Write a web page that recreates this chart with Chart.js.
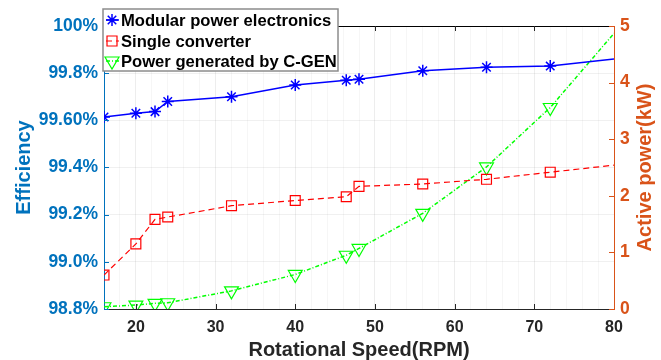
<!DOCTYPE html>
<html>
<head>
<meta charset="utf-8">
<script src="https://cdn.jsdelivr.net/npm/chart.js@4.4.1/dist/chart.umd.min.js"></script>
<style>
  html, body { margin: 0; padding: 0; background: #fff; }
  #wrap { width: 661px; height: 360px; position: relative; }
</style>
</head>
<body>
<div id="wrap"><canvas id="chart"></canvas></div>
<script>
// ===============================
// Données
// ===============================
const speeds = [16, 20, 22.4, 24, 32, 40, 46.4, 48, 56, 64, 72, 80];
const modularEff = [99.614, 99.63, 99.637, 99.68, 99.70, 99.75, 99.77, 99.774, 99.81, 99.825, 99.83, 99.86];
const singleEff = [98.944, 99.076, 99.18, 99.19, 99.238, 99.26, 99.276, 99.32, 99.33, 99.35, 99.38, 99.41];
const powerKW = [0.04, 0.07, 0.10, 0.11, 0.32, 0.61, 0.95, 1.07, 1.69, 2.51, 3.56, 4.87];

const xTicks = [20, 30, 40, 50, 60, 70, 80];
const effTicks = [98.8, 99.0, 99.2, 99.4, 99.6, 99.8, 100];
const effTickLabels = ["98.8%", "99.0%", "99.2%", "99.4%", "99.60%", "99.8%", "100%"];
const powerTicks = [0, 1, 2, 3, 4, 5];
const seriesNames = ["Modular power electronics", "Single converter", "Power generated by C-GEN"];

const FONT = '"Liberation Sans", Arial, sans-serif';
const BLUE_AX = "#0072BD";
const ORANGE_AX = "#D95319";
const DARK = "#262626";

const toPoints = (ys) => speeds.map((x, i) => ({ x: x, y: ys[i] }));
const hideLast = (r) => (c) => (c.raw && c.raw.x >= 80 ? 0 : r);

// ----------
// Décor : axes haut, graduations, légende, titre droit
// ----------
function drawMarker(ctx, kind, x, y) {
  ctx.beginPath();
  if (kind === "star") {
    const r = 6;
    ctx.moveTo(x - r, y); ctx.lineTo(x + r, y);
    ctx.moveTo(x, y - r); ctx.lineTo(x, y + r);
    const d = r * Math.SQRT1_2;
    ctx.moveTo(x - d, y - d); ctx.lineTo(x + d, y + d);
    ctx.moveTo(x - d, y + d); ctx.lineTo(x + d, y - d);
  } else if (kind === "rect") {
    ctx.rect(x - 5, y - 5, 10, 10);
  } else {
    ctx.moveTo(x - 7, y - 4);
    ctx.lineTo(x + 7, y - 4);
    ctx.lineTo(x, y + 8);
    ctx.closePath();
  }
  ctx.stroke();
}

const decor = {
  id: "decor",
  afterDraw(chart) {
    const { ctx, chartArea: a, scales } = chart;
    ctx.save();
    ctx.setLineDash([]);

    // axe du haut
    ctx.strokeStyle = "#000";
    ctx.lineWidth = 1;
    ctx.beginPath();
    ctx.moveTo(a.left, a.top + 0.5);
    ctx.lineTo(a.right, a.top + 0.5);
    ctx.stroke();

    // graduations x (bas + haut)
    ctx.strokeStyle = DARK;
    ctx.beginPath();
    xTicks.forEach((v) => {
      if (v >= 80) return;
      const px = Math.round(scales.x.getPixelForValue(v)) + 0.5;
      ctx.moveTo(px, a.bottom); ctx.lineTo(px, a.bottom - 5);
      ctx.moveTo(px, a.top); ctx.lineTo(px, a.top + 5);
    });
    ctx.stroke();

    // graduations gauche
    ctx.strokeStyle = BLUE_AX;
    ctx.beginPath();
    effTicks.forEach((v) => {
      const py = Math.round(scales.y.getPixelForValue(v)) + 0.5;
      ctx.moveTo(a.left, py); ctx.lineTo(a.left + 5, py);
    });
    ctx.stroke();

    // graduations droite
    ctx.strokeStyle = ORANGE_AX;
    ctx.beginPath();
    powerTicks.forEach((v) => {
      const py = Math.round(scales.y1.getPixelForValue(v)) + 0.5;
      ctx.moveTo(a.right, py); ctx.lineTo(a.right - 5, py);
    });
    ctx.stroke();

    // titre axe droit
    ctx.fillStyle = ORANGE_AX;
    ctx.font = "bold 20px " + FONT;
    ctx.textAlign = "center";
    ctx.textBaseline = "middle";
    ctx.translate(645, (a.top + a.bottom) / 2);
    ctx.rotate(-Math.PI / 2);
    ctx.fillText("Active power(kW)", 0, 0);
    ctx.restore();

    // légende
    ctx.save();
    ctx.fillStyle = "#fff";
    ctx.fillRect(103, 9, 235, 62);
    ctx.strokeStyle = "#8c8c8c";
    ctx.lineWidth = 1.5;
    ctx.strokeRect(103, 9, 235, 62);

    const rows = [20, 41, 61];
    chart.data.datasets.forEach((ds, i) => {
      const y = rows[i];
      ctx.strokeStyle = ds.borderColor;
      ctx.lineWidth = ds.borderWidth;
      ctx.setLineDash(ds.borderDash || []);
      ctx.beginPath();
      ctx.moveTo(106, y); ctx.lineTo(119, y);
      ctx.stroke();
      ctx.setLineDash([]);
      ctx.lineWidth = ds.pointBorderWidth;
      drawMarker(ctx, ds.pointStyle, 112, y);
      ctx.fillStyle = "#000";
      ctx.font = "bold 16.6px " + FONT;
      ctx.textAlign = "left";
      ctx.textBaseline = "middle";
      ctx.fillText(ds.label, 121, y + 1);
    });
    ctx.restore();
  }
};

// ===============================
// Graphique
// ===============================
const chart = new Chart(document.getElementById("chart"), {
  type: "line",
  data: {
    datasets: [
      {
        label: seriesNames[0],
        data: toPoints(modularEff),
        yAxisID: "y",
        borderColor: "#0000FF",
        borderWidth: 1.5,
        pointStyle: "star",
        pointRadius: hideLast(6),
        pointBorderColor: "#0000FF",
        pointBorderWidth: 1.5,
        pointBackgroundColor: "rgba(0,0,0,0)"
      },
      {
        label: seriesNames[1],
        data: toPoints(singleEff),
        yAxisID: "y",
        borderColor: "#FF0000",
        borderWidth: 1.2,
        borderDash: [6, 4],
        pointStyle: "rect",
        pointRadius: hideLast(7),
        pointBorderColor: "#FF0000",
        pointBorderWidth: 1.2,
        pointBackgroundColor: "rgba(0,0,0,0)"
      },
      {
        label: seriesNames[2],
        data: toPoints(powerKW),
        yAxisID: "y1",
        borderColor: "#00FF00",
        borderWidth: 1.5,
        borderDash: [4, 2, 1, 2],
        pointStyle: "triangle",
        rotation: 180,
        pointRadius: hideLast(8),
        pointBorderColor: "#00FF00",
        pointBorderWidth: 1.2,
        pointBackgroundColor: "rgba(0,0,0,0)"
      }
    ]
  },
  options: {
    responsive: true,
    maintainAspectRatio: false,
    animation: false,
    devicePixelRatio: 1,
    layout: { padding: { top: 26, left: 0, right: 0, bottom: 0 } },
    elements: { line: { tension: 0, fill: false } },
    datasets: { line: { clip: 0 } },
    plugins: {
      legend: { display: false },
      tooltip: { enabled: false }
    },
    scales: {
      x: {
        type: "linear",
        min: 16,
        max: 80,
        afterBuildTicks: (sc) => {
          const t = [];
          for (let v = 16; v <= 80; v += 2) t.push({ value: v });
          sc.ticks = t;
        },
        afterFit: (sc) => { sc.height = 51; },
        ticks: {
          autoSkip: false,
          maxRotation: 0,
          padding: 9,
          color: DARK,
          font: { family: FONT, size: 16, weight: "bold" },
          callback: (v) => (xTicks.includes(v) ? String(v) : "")
        },
        grid: {
          drawTicks: false,
          color: (c) => (c.tick && c.tick.value % 10 === 0 ? "rgba(0,0,0,0.07)" : "rgba(0,0,0,0.035)")
        },
        border: { display: true, color: DARK, width: 1 },
        title: {
          display: true,
          text: "Rotational Speed(RPM)",
          color: DARK,
          padding: { top: 0, bottom: 0 },
          font: { family: FONT, size: 20, weight: "bold", lineHeight: 1 }
        }
      },
      y: {
        position: "left",
        min: 98.8,
        max: 100,
        afterBuildTicks: (sc) => { sc.ticks = effTicks.map((v) => ({ value: v })); },
        afterFit: (sc) => { sc.width = 104; },
        ticks: {
          padding: 6,
          color: BLUE_AX,
          font: { family: FONT, size: 17.5, weight: "bold" },
          callback: (v, i) => effTickLabels[i]
        },
        grid: { drawTicks: false, color: "rgba(0,0,0,0.06)" },
        border: { display: true, color: BLUE_AX, width: 1 },
        title: {
          display: true,
          text: "Efficiency",
          color: BLUE_AX,
          padding: { top: 14, bottom: 0 },
          font: { family: FONT, size: 20, weight: "bold", lineHeight: 1 }
        }
      },
      y1: {
        position: "right",
        min: 0,
        max: 5,
        afterBuildTicks: (sc) => { sc.ticks = powerTicks.map((v) => ({ value: v })); },
        afterFit: (sc) => { sc.width = 47; },
        ticks: {
          padding: 6,
          color: ORANGE_AX,
          font: { family: FONT, size: 17.5, weight: "bold" },
          callback: (v) => String(v)
        },
        grid: { drawTicks: false, drawOnChartArea: false },
        border: { display: true, color: ORANGE_AX, width: 1 }
      }
    }
  },
  plugins: [decor]
});
</script>
</body>
</html>
